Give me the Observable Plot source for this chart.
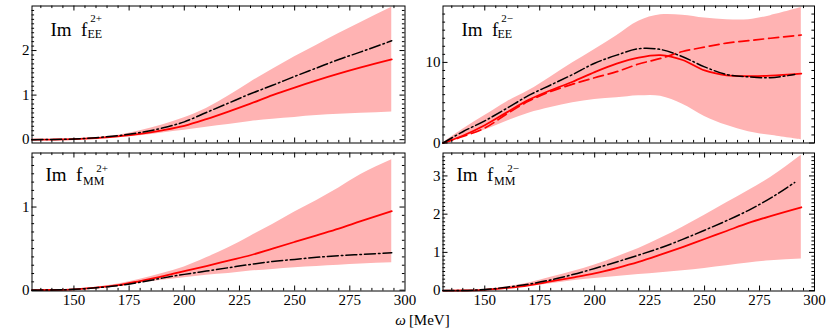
<!DOCTYPE html>
<html><head><meta charset="utf-8">
<script src="https://cdn.jsdelivr.net/npm/d3@7"></script>
<script src="https://cdn.jsdelivr.net/npm/@observablehq/plot@0.6"></script>
<style>
body{margin:0;background:#fff;}
#chart{position:relative;width:830px;height:336px;font-family:"Liberation Serif","DejaVu Serif",serif;}
#chart .p{position:absolute;}
#chart svg text{font-family:"Liberation Serif","DejaVu Serif",serif;}
#xlab{position:absolute;left:0;width:845px;top:312px;text-align:center;font-size:15px;color:#000;font-family:"Liberation Serif","DejaVu Serif",serif;}
</style></head><body><div id="chart"></div>
<script>
// ---- data ----
const omega = [131,140,150,160,170,180,190,200,210,220,230,240,250,260,270,280,294];
const omegaShort = [131,140,150,160,170,180,190,200,210,220,230,240,250,260,270,280,291];

// Im f_EE^{2+}
const eePlusLo    = [0,0.002,0.006,0.02,0.05,0.09,0.15,0.21,0.28,0.34,0.41,0.46,0.50,0.54,0.57,0.59,0.62];
const eePlusHi    = [0,0.005,0.02,0.05,0.10,0.20,0.33,0.49,0.70,0.98,1.29,1.58,1.86,2.12,2.38,2.63,2.97];
const eePlusRed   = [0,0.003,0.012,0.035,0.075,0.13,0.21,0.31,0.46,0.63,0.81,1.00,1.17,1.33,1.48,1.62,1.80];
const eePlusBlack = [0,0.004,0.015,0.045,0.09,0.16,0.26,0.40,0.61,0.82,1.03,1.22,1.42,1.61,1.80,1.97,2.22];

// Im f_EE^{2-}
const eeMinusLo     = [0,0.7,1.6,2.7,3.7,4.4,5.0,5.4,5.6,5.85,5.8,4.8,3.3,2.2,1.4,0.95,0.4];
const eeMinusHi     = [0,1.7,3.4,5.1,6.5,8.2,9.95,11.6,13.3,15.1,15.9,15.85,15.5,15.3,15.3,15.8,16.8];
const eeMinusRed    = [0,0.9,2.2,3.8,5.35,6.55,7.6,8.8,9.85,10.6,10.9,10.3,9.0,8.4,8.3,8.35,8.6];
const eeMinusDashed = [0,0.8,1.85,3.6,5.2,6.4,7.3,8.1,8.85,9.8,10.5,11.35,11.9,12.4,12.7,13.0,13.4];
const eeMinusBlack  = [0,1.4,2.75,4.3,5.9,7.2,8.5,9.9,10.9,11.7,11.6,10.7,9.45,8.5,8.2,8.1,8.5];

// Im f_MM^{2+}
const mmPlusLo    = [0,0.002,0.008,0.025,0.05,0.085,0.12,0.15,0.18,0.20,0.23,0.25,0.27,0.285,0.30,0.315,0.33];
const mmPlusHi    = [0,0.003,0.012,0.035,0.075,0.13,0.20,0.28,0.39,0.51,0.65,0.79,0.94,1.08,1.23,1.39,1.57];
const mmPlusRed   = [0,0.002,0.01,0.03,0.06,0.11,0.165,0.23,0.29,0.355,0.42,0.50,0.58,0.66,0.74,0.83,0.95];
const mmPlusBlack = [0,0.002,0.01,0.028,0.055,0.095,0.145,0.19,0.23,0.27,0.31,0.345,0.37,0.395,0.415,0.43,0.45];

// Im f_MM^{2-}
const mmMinusLo    = [0,0.004,0.015,0.05,0.11,0.18,0.26,0.32,0.37,0.42,0.47,0.52,0.58,0.65,0.72,0.78,0.83];
const mmMinusHi    = [0,0.008,0.035,0.10,0.20,0.35,0.50,0.67,0.88,1.10,1.37,1.66,1.97,2.30,2.62,2.96,3.54];
const mmMinusRed   = [0,0.003,0.02,0.07,0.14,0.24,0.34,0.45,0.59,0.75,0.94,1.14,1.35,1.56,1.77,1.95,2.18];
const mmMinusBlack = [0,0.005,0.03,0.09,0.17,0.28,0.42,0.58,0.75,0.93,1.12,1.34,1.58,1.83,2.10,2.42,2.83];

const xTickLabels = [150,175,200,225,250,275,300];
const xLabel = "[MeV]";

// ---- drawing ----
const FONT = '"Liberation Serif","DejaVu Serif",serif';
const RED = "#ff0000", BAND = "#ffb3b3";
const chart = document.getElementById("chart");

function panel(o) {
  const pw = o.width - o.ml - o.mr, ph = o.height - o.mt - o.mb;
  const curve = o.curve || "monotone-x";
  const rows = omega.map((w, i) => ({w, lo: o.lo[i], hi: o.hi[i], red: o.red[i], dashed: o.dashed ? o.dashed[i] : null}));
  const rowsB = o.blackX.map((w, i) => ({w, v: o.black[i]}));
  const xMinor = d3.range(27, 60).map(i => i * 5).filter(v => v % 25 !== 0 && v > 131 && v < 300);
  const xMajor = xTickLabels.filter(v => v < 300);
  const yMinor = o.yMinor.filter(v => !o.yMajor.includes(v));
  const tickM = 5, tickm = 2.6;
  const T = {fontFamily: FONT, textAnchor: "start", lineAnchor: "bottom", frameAnchor: "top-left"};
  const marks = [
    Plot.areaY(rows, {x: "w", y1: "lo", y2: "hi", fill: BAND, curve}),
    o.dashed ? Plot.lineY(rows, {x: "w", y: "dashed", stroke: RED, strokeWidth: 1.7, strokeDasharray: "10,5", curve}) : null,
    Plot.lineY(rows, {x: "w", y: "red", stroke: RED, strokeWidth: 1.8, curve}),
    Plot.lineY(rowsB, {x: "w", y: "v", stroke: "#000", strokeWidth: 1.5, strokeDasharray: "11,3,1.6,3", curve}),
    Plot.frame({stroke: "#000", strokeWidth: 1}),
    // inward ticks on all four sides
    Plot.tickX(xMinor, {x: d => d, insetTop: ph - tickm, stroke: "#000"}),
    Plot.tickX(xMajor, {x: d => d, insetTop: ph - tickM, stroke: "#000"}),
    Plot.tickX(xMinor, {x: d => d, insetBottom: ph - tickm, stroke: "#000"}),
    Plot.tickX(xMajor, {x: d => d, insetBottom: ph - tickM, stroke: "#000"}),
    Plot.tickY(yMinor, {y: d => d, insetRight: pw - tickm, stroke: "#000"}),
    Plot.tickY(o.yMajor, {y: d => d, insetRight: pw - tickM, stroke: "#000"}),
    Plot.tickY(yMinor, {y: d => d, insetLeft: pw - tickm, stroke: "#000"}),
    Plot.tickY(o.yMajor, {y: d => d, insetLeft: pw - tickM, stroke: "#000"}),
    Plot.axisY(o.yMajor, {tickSize: 0, tickPadding: 2.5, fontSize: 15, fontFamily: FONT, tickFormat: d => String(d), label: null}),
    o.xAxis ? Plot.axisX(xTickLabels, {tickSize: 0, tickPadding: 3.5, fontSize: 15, fontFamily: FONT, tickFormat: d => String(d), label: null}) : null,
    Plot.text([o.name], {...T, text: d => d, dx: o.lab[0], dy: o.lab[1], fontSize: 19}),
    Plot.text([o.sub], {...T, text: d => d, dx: o.lab[2], dy: o.lab[3], fontSize: 12}),
    Plot.text([o.sup], {...T, text: d => d, dx: o.lab[4], dy: o.lab[5], fontSize: 11, textAnchor: "end"})
  ];
  const svg = Plot.plot({
    width: o.width, height: o.height,
    marginTop: o.mt, marginBottom: o.mb, marginLeft: o.ml, marginRight: o.mr,
    x: {domain: [131, 300], axis: null},
    y: {domain: o.yDomain, axis: null},
    style: {fontFamily: FONT, fontSize: "15px", color: "#000", background: "transparent", overflow: "visible"},
    marks
  });
  const d = document.createElement("div");
  d.className = "p";
  d.style.left = o.left + "px";
  d.style.top = o.top + "px";
  d.appendChild(svg);
  chart.appendChild(d);
}

const tenths = n => d3.range(0, n + 1).map(i => i / 10);

panel({left: 0, top: 0, width: 415, height: 147, ml: 31.5, mr: 10.5, mt: 5.5, mb: 4.5,
  yDomain: [-0.075, 3.0], yMajor: [0, 1, 2], yMinor: tenths(29),
  lo: eePlusLo, hi: eePlusHi, red: eePlusRed, black: eePlusBlack, blackX: omega,
  name: "Im  f", sub: "EE", sup: "2+", lab: [18.5, 29.5, 55.5, 32, 70, 15.5], xAxis: false});

panel({left: 415, top: 0, width: 415, height: 147, ml: 27.5, mr: 16, mt: 5.5, mb: 4.5,
  yDomain: [0, 17], yMajor: [0, 10], yMinor: d3.range(0, 17), curve: "catmull-rom",
  lo: eeMinusLo, hi: eeMinusHi, red: eeMinusRed, dashed: eeMinusDashed, black: eeMinusBlack, blackX: omegaShort,
  name: "Im  f", sub: "EE", sup: "2\u2212", lab: [18.5, 29.5, 54.5, 32, 70, 15.5], xAxis: false});

panel({left: 0, top: 147, width: 415, height: 170, ml: 31.5, mr: 10.5, mt: 5.5, mb: 26.5,
  yDomain: [-0.01, 1.65], yMajor: [0, 1], yMinor: tenths(16),
  lo: mmPlusLo, hi: mmPlusHi, red: mmPlusRed, black: mmPlusBlack, blackX: omega,
  name: "Im  f", sub: "MM", sup: "2+", lab: [13.5, 28, 51, 32, 76, 18.5], xAxis: true});

panel({left: 415, top: 147, width: 415, height: 170, ml: 27.5, mr: 16, mt: 5.5, mb: 26.5,
  yDomain: [-0.01, 3.6], yMajor: [0, 1, 2, 3], yMinor: tenths(35),
  lo: mmMinusLo, hi: mmMinusHi, red: mmMinusRed, black: mmMinusBlack, blackX: omegaShort,
  name: "Im  f", sub: "MM", sup: "2\u2212", lab: [13.5, 28, 51, 32, 76, 18.5], xAxis: true});

const xl = document.createElement("div");
xl.id = "xlab";
xl.innerHTML = '<i>\u03c9</i>\u2009' + xLabel;
chart.appendChild(xl);
</script>
</body></html>
